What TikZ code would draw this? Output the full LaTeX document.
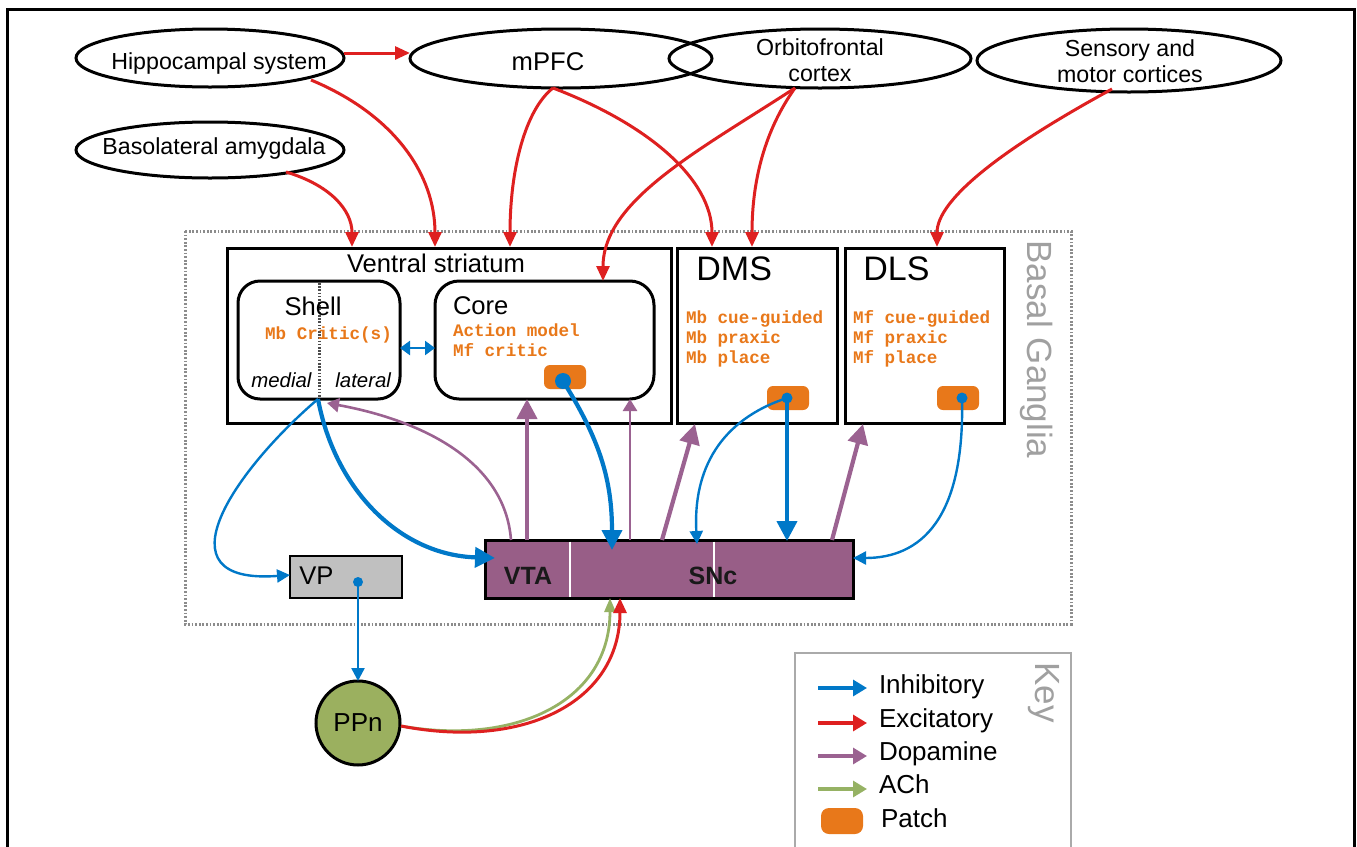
\documentclass[tikz,border=0pt]{standalone}
\usepackage{fontspec}
\setmainfont{Liberation Sans}
\setmonofont{Liberation Mono}
\usetikzlibrary{shapes.geometric,arrows.meta}
\definecolor{inh}{RGB}{0,120,200}
\definecolor{exc}{RGB}{222,32,32}
\definecolor{dop}{RGB}{155,98,145}
\definecolor{ach}{RGB}{150,178,100}
\definecolor{orangec}{RGB}{232,120,26}
\definecolor{vtafill}{RGB}{152,94,135}
\definecolor{ppnfill}{RGB}{155,176,95}
\definecolor{vpgray}{RGB}{192,192,192}
\definecolor{titlegray}{RGB}{160,160,160}
\definecolor{dotgray}{RGB}{140,140,140}
\definecolor{keygray}{RGB}{170,170,170}
\begin{document}
\begin{tikzpicture}[x=0.5pt,y=-0.5pt,
  ell/.style={draw=black,line width=1.5pt,ellipse,inner sep=0pt,outer sep=0pt},
  lbl/.style={inner sep=0pt,outer sep=0pt,font=\fontsize{11.6pt}{13pt}\selectfont,align=center},
  big/.style={inner sep=0pt,outer sep=0pt,font=\fontsize{12.8pt}{14pt}\selectfont},
  bx/.style={draw=black,line width=1.5pt,rectangle,inner sep=0pt,outer sep=0pt,anchor=north west},
  rbx/.style={bx,rounded corners=11pt},
  mono/.style={inner sep=0pt,outer sep=0pt,anchor=mid west,text=orangec,font=\fontsize{8.8pt}{10pt}\selectfont\ttfamily\bfseries},
  patchbox/.style={fill=orangec,rounded corners=3pt,inner sep=0pt,outer sep=0pt,minimum width=21pt,minimum height=12pt,anchor=north west},
  dotb/.style={circle,fill=inh,inner sep=0pt,outer sep=0pt},
  ex/.style={exc,line width=1.5pt,-{Triangle[length=7.5pt,width=6.5pt]}},
  inthin/.style={inh,line width=1.2pt,-{Triangle[length=6.5pt,width=6.5pt]}},
  inthick/.style={inh,line width=2.1pt,-{Triangle[length=10pt,width=10pt]}},
  dpthin/.style={dop,line width=1.3pt,-{Triangle[length=6pt,width=7pt]}},
  dpthick/.style={dop,line width=2.1pt,-{Triangle[length=10pt,width=10pt]}},
  keyarr/.style={line width=1.6pt,-{Triangle[length=7pt,width=8pt]}},
  keylbl/.style={inner sep=0pt,outer sep=0pt,anchor=mid west,font=\fontsize{13pt}{14pt}\selectfont},
  gtitle/.style={inner sep=0pt,outer sep=0pt,text=titlegray,rotate=-90,anchor=base,font=\fontsize{17.5pt}{18pt}\selectfont}
]
\useasboundingbox (0,0) rectangle (1357,847);
% frame
\draw[line width=1.5pt] (7,9) rectangle (1354,900);
% basal ganglia dotted region
\draw[dotgray,line width=1.5pt,dash pattern=on 0.9pt off 0.9pt] (185,231) rectangle (1071,624);
\node[gtitle] (bgT) at (1027,349.5) {Basal Ganglia};
% key box
\draw[keygray,line width=1.3pt] (795,870) -- (795,653) -- (1071,653) -- (1071,870);
\node[gtitle] (keyT) at (1035,692.5) {Key};

% ellipses
\node[ell,minimum width=134pt,minimum height=29pt] (hip) at (210,58) {};
\node[lbl] (hipT) at (219,63) {Hippocampal system};
\node[ell,minimum width=134pt,minimum height=28pt] (bla) at (210,150) {};
\node[lbl] (blaT) at (214,148) {Basolateral amygdala};
\node[ell,minimum width=151pt,minimum height=29.5pt] (mpfc) at (561,58.5) {};
\node[lbl,font=\fontsize{12.8pt}{14pt}\selectfont] (mpfcT) at (548,62) {mPFC};
\node[ell,minimum width=151pt,minimum height=29.5pt] (ofc) at (820,58.5) {};
\node[lbl] (ofcT) at (820,60) {Orbitofrontal\\cortex};
\node[ell,minimum width=152pt,minimum height=31.5pt] (sens) at (1129,60.5) {};
\node[lbl] (sensT) at (1130,61) {Sensory and\\motor cortices};

% striatum boxes
\node[bx,minimum width=222pt,minimum height=87.5pt] (vs) at (227,248) {};
\node[big] (vsT) at (436,263) {Ventral striatum};
\node[rbx,minimum width=81pt,minimum height=59pt] (shell) at (238,281) {};
\node[rbx,minimum width=109.5pt,minimum height=59pt,rounded corners=12pt] (core) at (435,281) {};
\draw[black!70,line width=1.5pt,dash pattern=on 0.8pt off 0.8pt] (319,283) -- (319,398);
\node[big] (shellT) at (313,306) {Shell};
\node[big,anchor=west] (coreT) at (453,306) {Core};
\node[mono,anchor=mid] (mbc) at (328.5,334) {Mb Critic(s)};
\node[mono] (am) at (453,331) {Action model};
\node[mono] (mfc) at (453,351) {Mf critic};
\node[inner sep=0pt,anchor=mid west,font=\fontsize{10.2pt}{11pt}\selectfont\itshape] (med) at (251,382) {medial};
\node[inner sep=0pt,anchor=mid west,font=\fontsize{10.2pt}{11pt}\selectfont\itshape] (lat) at (335,382) {lateral};

\node[bx,minimum width=80pt,minimum height=87.5pt] (dms) at (677,248) {};
\node[inner sep=0pt,anchor=west,font=\fontsize{17pt}{18pt}\selectfont] (dmsT) at (696,269) {DMS};
\node[mono] (dms1) at (686,318) {Mb cue-guided};
\node[mono] (dms2) at (686,338) {Mb praxic};
\node[mono] (dms3) at (686,358) {Mb place};
\node[bx,minimum width=79.5pt,minimum height=87.5pt] (dls) at (845,248) {};
\node[inner sep=0pt,anchor=west,font=\fontsize{17pt}{18pt}\selectfont] (dlsT) at (863,269) {DLS};
\node[mono] (dls1) at (853,318) {Mf cue-guided};
\node[mono] (dls2) at (853,338) {Mf praxic};
\node[mono] (dls3) at (853,358) {Mf place};

% patches
\node[patchbox] (pcore) at (544,365) {};
\node[patchbox] (pdms) at (767,386) {};
\node[patchbox] (pdls) at (937,386) {};

% VTA / SNc, VP, PPn
\node[bx,fill=vtafill,minimum width=184pt,minimum height=29pt] (vta) at (485,540) {};
\draw[white,line width=1pt] (570,541.5) -- (570,596.5);
\draw[white,line width=1pt] (714,541.5) -- (714,596.5);
\node[inner sep=0pt,font=\fontsize{12.5pt}{13pt}\selectfont\bfseries,text=black!90] (vtaT) at (528,576) {VTA};
\node[inner sep=0pt,font=\fontsize{12.5pt}{13pt}\selectfont\bfseries,text=black!90] (sncT) at (713,576) {SNc};
\node[bx,fill=vpgray,line width=1.3pt,minimum width=56pt,minimum height=21pt] (vp) at (290,556) {};
\node[inner sep=0pt,anchor=mid west,font=\fontsize{12.8pt}{14pt}\selectfont] (vpT) at (299,579) {VP};
\node[circle,draw=black,line width=1.5pt,fill=ppnfill,minimum size=42pt,inner sep=0pt,outer sep=0pt] (ppn) at (358,723) {};
\node[inner sep=0pt,font=\fontsize{13pt}{14pt}\selectfont] (ppnT) at (358,723) {PPn};

% coordinates for connector ends
\coordinate (hipE) at (344,53);
\coordinate (mpfcW) at (410,53);
\coordinate (hipS) at (311,80);
\coordinate (blaS) at (286,172);
\coordinate (mpfcS) at (553,88);
\coordinate (ofcS) at (795,88);
\coordinate (sensS) at (1112,89);
\coordinate (vsA) at (352,247);
\coordinate (vsB) at (435,247);
\coordinate (vsC) at (510,247);
\coordinate (coreN) at (603,281);
\coordinate (dmsA) at (712,247);
\coordinate (dmsB) at (752,247);
\coordinate (dlsA) at (937,247);
\coordinate (shellS) at (318,399);
\coordinate (vpW) at (290,575);
\coordinate (vtaW) at (495,558);
\coordinate (pcoreD) at (563,381);
\coordinate (pdmsD) at (787,398);
\coordinate (pdlsD) at (962,398);
\coordinate (vpD) at (358,582);
\coordinate (sncA) at (612,550);
\coordinate (sncB) at (697,544);
\coordinate (sncC) at (787,541);
\coordinate (sncE) at (853,558);
\coordinate (vtaD1) at (511,540);
\coordinate (vtaD2) at (527,540);
\coordinate (sncD1) at (630,540);
\coordinate (sncD2) at (662,540);
\coordinate (sncD3) at (832,540);
\coordinate (shellJ) at (327,403);
\coordinate (coreS1) at (527,399);
\coordinate (coreS2) at (630,399);
\coordinate (dmsS) at (695,424);
\coordinate (dlsS) at (863,424);
\coordinate (ppnE) at (401,726);
\coordinate (sncG) at (610,598);
\coordinate (sncR) at (620,598);

% excitatory
\draw[ex] (hipE) -- (mpfcW);
\draw[ex] (hipS) .. controls (395,115) and (435,175) .. (vsB);
\draw[ex] (blaS) .. controls (330,185) and (352,210) .. (vsA);
\draw[ex] (mpfcS) .. controls (525,110) and (510,170) .. (vsC);
\draw[ex] (mpfcS) .. controls (650,125) and (712,180) .. (dmsA);
\draw[ex] (ofcS) .. controls (700,150) and (603,200) .. (coreN);
\draw[ex] (ofcS) .. controls (765,130) and (752,180) .. (dmsB);
\draw[ex] (sensS) .. controls (1000,150) and (937,200) .. (dlsA);

% dopamine
\draw[dpthin] (vtaD1) .. controls (505,460) and (420,420) .. (shellJ);
\draw[dpthick] (vtaD2) -- (coreS1);
\draw[dpthin] (sncD1) -- (coreS2);
\draw[dpthick] (sncD2) -- (dmsS);
\draw[dpthick] (sncD3) -- (dlsS);

% inhibitory
\draw[inthin] (shellS) .. controls (235,470) and (155,585) .. (vpW);
\draw[inthick] (shellS) .. controls (335,490) and (400,555) .. (vtaW);
\draw[inthick] (pcoreD) .. controls (600,440) and (612,480) .. (sncA);
\draw[inthin] (pdmsD) .. controls (720,420) and (693,470) .. (sncB);
\draw[inthick] (pdmsD) -- (sncC);
\draw[inthin] (pdlsD) .. controls (965,520) and (920,558) .. (sncE);
\draw[inh,line width=1.4pt,{Triangle[length=5pt,width=7pt]}-{Triangle[length=5pt,width=7pt]}] (shell.east |- 0,348) -- (core.west |- 0,348);
\draw[inthin] (vpD) -- (ppn.north);

% ACh and excitatory from PPn
\draw[ach,line width=1.4pt,-{Triangle[length=7pt,width=5.5pt]}] (ppnE) .. controls (515,746) and (610,702) .. (sncG);
\draw[ex] (ppnE) .. controls (524,750) and (620,702) .. (sncR);

% dots
\node[dotb,minimum size=8pt] (dcore) at (pcoreD) {};
\node[dotb,minimum size=5.5pt] (ddms) at (pdmsD) {};
\node[dotb,minimum size=5.5pt] (ddls) at (pdlsD) {};
\node[dotb,minimum size=5pt] (dvp) at (vpD) {};

% key
\coordinate (k1a) at (818,688); \coordinate (k1b) at (867,688);
\coordinate (k2a) at (818,723); \coordinate (k2b) at (867,723);
\coordinate (k3a) at (818,756); \coordinate (k3b) at (867,756);
\coordinate (k4a) at (818,789); \coordinate (k4b) at (867,789);
\draw[keyarr,inh] (k1a) -- (k1b);
\draw[keyarr,exc] (k2a) -- (k2b);
\draw[keyarr,dop] (k3a) -- (k3b);
\draw[keyarr,ach] (k4a) -- (k4b);
\node[keylbl] (kl1) at (879,688) {Inhibitory};
\node[keylbl] (kl2) at (879,722) {Excitatory};
\node[keylbl] (kl3) at (879,755) {Dopamine};
\node[keylbl] (kl4) at (879,788) {ACh};
\node[patchbox,rounded corners=4pt,minimum height=13pt] (kpatch) at (821,808) {};
\node[keylbl] (kl5) at (881,822) {Patch};
\end{tikzpicture}
\end{document}
